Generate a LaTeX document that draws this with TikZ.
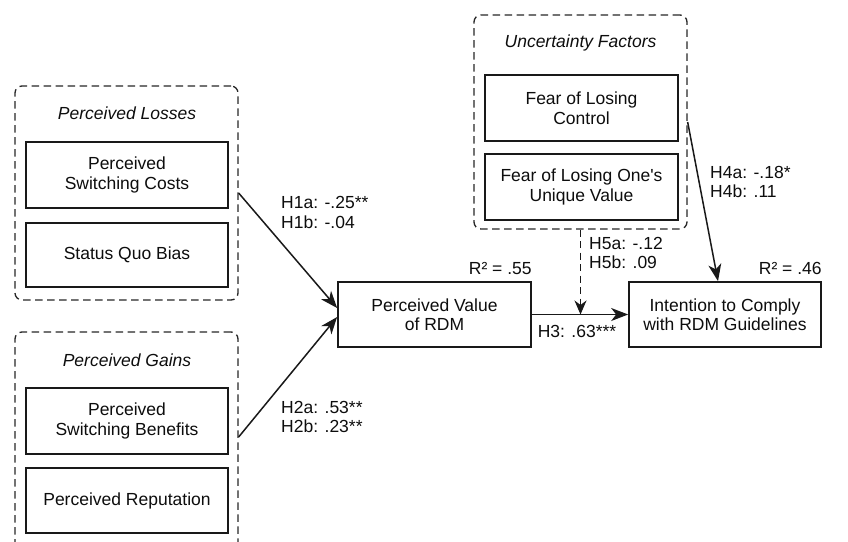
\documentclass[tikz,border=0pt]{standalone}
\usepackage{fontspec}
\setmainfont{Liberation Sans}[Ligatures=TeXOff]
\usetikzlibrary{arrows.meta,calc}
\begin{document}
\begin{tikzpicture}[x=1pt,y=-1pt,
  every node/.style={font=\fontsize{17.5}{19.5}\selectfont, text=black!95, inner sep=0pt},
  box/.style={draw=black!90, line width=1.7pt, align=center, fill=white},
  group/.style={draw=black!85, line width=1.3pt, dash pattern=on 7.5pt off 4.5pt, rounded corners=7pt},
  grouptitle/.style={font=\fontsize{17.5}{19.5}\selectfont\itshape},
  lbl/.style={align=left, anchor=west},
  arr/.style={draw=black!90, line width=1.5pt, -{Stealth[length=17pt,width=13pt,inset=5pt]}}
]
\useasboundingbox (0,0) rectangle (848,541);
% groups
\node[group, minimum width=223pt, minimum height=214pt] (losses) at (126.5,193) {};
\node[group, minimum width=223pt, minimum height=228pt] (gains) at (126.5,446) {};
\node[group, minimum width=213pt, minimum height=214pt] (unc) at (580.5,122) {};
% titles
\node[grouptitle] (tl) at (127,113) {Perceived Losses};
\node[grouptitle] (tg) at (127,360) {Perceived Gains};
\node[grouptitle] (tu) at (580.5,43) {Uncertainty Factors};
% inner boxes
\node[box, minimum width=202pt, minimum height=66pt] (psc) at (127,175) {Perceived\\Switching Costs};
\node[box, minimum width=202pt, minimum height=64pt] (sqb) at (127,255) {Status Quo Bias};
\node[box, minimum width=202pt, minimum height=66pt] (psb) at (127,421) {Perceived\\Switching Benefits};
\node[box, minimum width=202pt, minimum height=65pt] (prep) at (127,500.5) {Perceived Reputation};
\node[box, minimum width=193pt, minimum height=66pt] (flc) at (581.5,108) {Fear of Losing\\Control};
\node[box, minimum width=193pt, minimum height=66pt] (flu) at (581.5,187) {Fear of Losing One's\\Unique Value};
% main constructs
\node[box, minimum width=193pt, minimum height=65pt] (pv) at (434.5,314.5) {Perceived Value\\of RDM};
\node[box, minimum width=192pt, minimum height=65pt] (ic) at (725,314.5) {Intention to Comply\\with RDM Guidelines};
% R2
\node[anchor=south east] (r1) at ([yshift=6pt]pv.north east) {R² = .55};
\node[anchor=south east] (r2) at ([yshift=6pt]ic.north east) {R² = .46};
% connectors
\draw[arr] (losses.east) -- ([yshift=6.5pt]pv.west);
\draw[arr] ([yshift=9pt]gains.east) -- ([yshift=-2.5pt]pv.west);
\draw[arr] (pv.east) -- (ic.west);
\coordinate (m) at (unc.south |- pv.east);
\draw[arr, line width=1.3pt, dash pattern=on 7pt off 4.5pt, -{Stealth[length=14pt,width=12pt,inset=4.5pt]}] (unc.south) -- (m);
\draw[arr] (unc.east) -- ([xshift=-7pt]ic.north);
% labels
\node[lbl] (h1) at (281,212.5) {H1a: -.25**\\H1b: -.04};
\node[lbl] (h2) at (281,417) {H2a: .53**\\H2b: .23**};
\node (h3) at (577,331) {H3: .63***};
\node[lbl] (h5) at (589,253) {H5a: -.12\\H5b: .09};
\node[lbl] (h4) at (710,182) {H4a: -.18*\\H4b: .11};
\end{tikzpicture}
\end{document}
